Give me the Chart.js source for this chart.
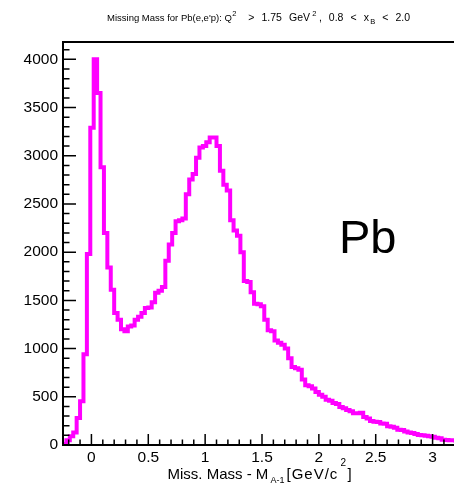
<!DOCTYPE html>
<html>
<head>
<meta charset="utf-8">
<script src="https://cdn.jsdelivr.net/npm/chart.js@4.4.1/dist/chart.umd.min.js"></script>
<style>
  html, body { margin: 0; padding: 0; background: #fff; overflow: hidden; }
  canvas { display: block; }
</style>
</head>
<body>
<canvas id="mmChart" width="470" height="488"></canvas>
<script>
// histogram: 0.03 GeV bins from -0.25
const binLow = -0.25;
const binWidth = 0.03;
const counts = [
  10, 50, 90, 130, 280, 455, 940, 1980, 3290, 4000,
  3650, 2880, 2200, 1840, 1610, 1370, 1300, 1200, 1180, 1230,
  1240, 1300, 1330, 1370, 1420, 1425, 1480, 1580, 1600, 1640,
  1910, 2080, 2200, 2320, 2330, 2350, 2600, 2755, 2810, 2980,
  3085, 3100, 3140, 3190, 3190, 3100, 2845, 2700, 2640, 2330,
  2225, 2170, 2000, 1700, 1690, 1585, 1465, 1460, 1440, 1300,
  1190, 1180, 1085, 1060, 1040, 1000, 900, 810, 795, 780,
  680, 620, 610, 586, 550, 520, 500, 470, 460, 435,
  425, 395, 380, 362, 350, 330, 330, 334, 290, 276,
  250, 241, 238, 224, 220, 195, 190, 180, 158, 155,
  140, 130, 125, 115, 105, 100, 95, 90, 85, 75,
  70, 55, 52, 50, 48, 45, 40
];
const xRange = [-0.25, 3.25];
const yRange = [0, 4180];
const xMajorTicks = [0, 0.5, 1, 1.5, 2, 2.5, 3];
const yMajorTicks = [0, 500, 1000, 1500, 2000, 2500, 3000, 3500, 4000];

const points = counts.map((c, i) => ({ x: binLow + i * binWidth, y: c }));
points.push({ x: binLow + counts.length * binWidth, y: counts[counts.length - 1] });

const FONT = "'Liberation Sans', Arial, Helvetica, sans-serif";

// lay out text tokens left to right; gap weights are stretched so the run ends at xEnd
function drawRun(ctx, tokens, x0, xEnd, baseline) {
  let natural = 0, gapSum = 0;
  tokens.forEach(t => {
    ctx.font = t.size + 'px ' + FONT;
    t.w = ctx.measureText(t.text).width;
    natural += t.w;
    gapSum += t.gap || 0;
  });
  const f = gapSum > 0 ? Math.max(0, (xEnd - x0 - natural) / gapSum) : 0;
  let x = x0;
  tokens.forEach(t => {
    x += (t.gap || 0) * f;
    ctx.font = t.size + 'px ' + FONT;
    ctx.fillText(t.text, x, baseline + (t.dy || 0));
    x += t.w;
  });
}

const rootFrame = {
  id: 'rootFrame',
  afterDatasetsDraw(chart) {
    const { ctx, chartArea: a, scales: { x, y } } = chart;
    ctx.save();
    ctx.strokeStyle = '#000';
    ctx.lineWidth = 1.5;
    ctx.beginPath();
    for (let i = -2; i <= 32; i++) {
      const px = x.getPixelForValue(i / 10);
      const len = i % 5 === 0 ? 11 : 5.5;
      ctx.moveTo(px, a.bottom);
      ctx.lineTo(px, a.bottom - len);
    }
    for (let v = 0; v <= yRange[1]; v += 100) {
      const py = y.getPixelForValue(v);
      const len = v % 500 === 0 ? 13 : 6.5;
      ctx.moveTo(a.left, py);
      ctx.lineTo(a.left + len, py);
    }
    ctx.stroke();
    ctx.lineWidth = 2;
    ctx.strokeRect(a.left, a.top, a.right - a.left, a.bottom - a.top);

    ctx.fillStyle = '#000';
    ctx.textBaseline = 'alphabetic';
    ctx.textAlign = 'left';

    // title
    ctx.font = '9.5px ' + FONT;
    ctx.fillText("Missing Mass for Pb(e,e'p): Q", 107, 21);
    drawRun(ctx, [
      { text: '2', size: 7.5, dy: -5, gap: 1 },
      { text: '>', size: 10.5, gap: 5 },
      { text: '1.75', size: 10.5, gap: 3 },
      { text: 'GeV', size: 10.5, gap: 3 },
      { text: '2', size: 7.5, dy: -5, gap: 1 },
      { text: ',', size: 10.5, gap: 1 },
      { text: '0.8', size: 10.5, gap: 3 },
      { text: '<', size: 10.5, gap: 3 },
      { text: 'x', size: 10.5, gap: 3 },
      { text: 'B', size: 7.5, dy: 3, gap: 0.5 },
      { text: '<', size: 10.5, gap: 3 },
      { text: '2.0', size: 10.5, gap: 3 }
    ], 230, 410, 21);

    // x axis title
    ctx.font = '15px ' + FONT;
    ctx.fillText('Miss. Mass - M', 167.5, 478.5);
    ctx.font = '9px ' + FONT;
    ctx.fillText('A-1', 270.5, 482.5);
    ctx.font = '15px ' + FONT;
    if ('letterSpacing' in ctx) ctx.letterSpacing = '1px';
    ctx.fillText('[GeV/c', 286.5, 478.5);
    if ('letterSpacing' in ctx) ctx.letterSpacing = '0px';
    ctx.font = '10px ' + FONT;
    ctx.fillText('2', 340.5, 466);
    ctx.font = '15px ' + FONT;
    ctx.fillText(']', 347.5, 478.5);

    // target label
    ctx.font = '47px ' + FONT;
    ctx.fillText('Pb', 339, 253);
    ctx.restore();
  }
};

new Chart(document.getElementById('mmChart'), {
  type: 'line',
  data: {
    datasets: [{
      data: points,
      borderColor: '#ff00ff',
      borderWidth: 4,
      stepped: true,
      pointRadius: 0,
      fill: false
    }]
  },
  options: {
    responsive: false,
    animation: false,
    devicePixelRatio: 1,
    layout: { padding: { top: 42, right: 9, bottom: 0, left: 0 } },
    plugins: {
      legend: { display: false },
      tooltip: { enabled: false },
      title: { display: false }
    },
    scales: {
      x: {
        type: 'linear',
        min: xRange[0],
        max: xRange[1],
        grid: { display: false, drawTicks: false },
        border: { display: false },
        ticks: {
          color: '#000',
          font: { family: FONT, size: 15.5 },
          padding: 3,
          maxRotation: 0,
          autoSkip: false,
          callback: v => String(v)
        },
        afterBuildTicks: s => { s.ticks = xMajorTicks.map(v => ({ value: v })); },
        afterFit: s => { s.height = 43; }
      },
      y: {
        min: yRange[0],
        max: yRange[1],
        grid: { display: false, drawTicks: false },
        border: { display: false },
        ticks: {
          color: '#000',
          font: { family: FONT, size: 15.5 },
          padding: 5,
          callback: v => String(v)
        },
        afterBuildTicks: s => { s.ticks = yMajorTicks.map(v => ({ value: v })); },
        afterFit: s => { s.width = 63; }
      }
    }
  },
  plugins: [rootFrame]
});
</script>
</body>
</html>
